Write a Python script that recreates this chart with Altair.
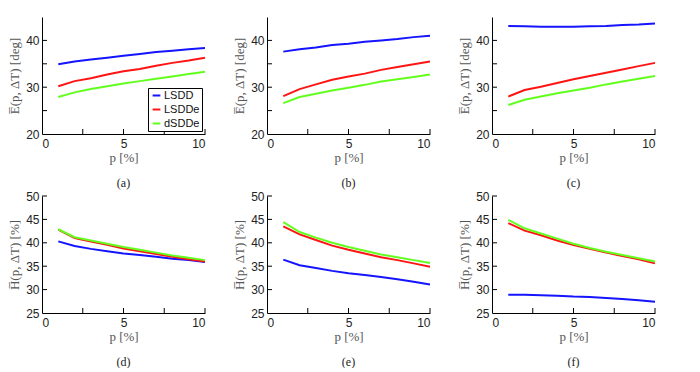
import altair as alt
import pandas as pd

p = [1, 2, 3, 4, 5, 6, 7, 8, 9, 10]
methods = ["LSDD", "LSDDe", "dSDDe"]
colors = ["#1414ff", "#ff1414", "#62ff1e"]

# top row: mean angular error E(p, dT) [deg]
a_vals = [
    [34.9, 35.5, 35.9, 36.3, 36.7, 37.1, 37.5, 37.8, 38.1, 38.4],
    [30.2, 31.3, 31.9, 32.7, 33.4, 33.9, 34.6, 35.2, 35.7, 36.3],
    [27.9, 28.9, 29.6, 30.2, 30.8, 31.3, 31.8, 32.3, 32.8, 33.3],
]
b_vals = [
    [37.6, 38.1, 38.5, 39.0, 39.3, 39.7, 40.0, 40.3, 40.7, 41.0],
    [28.1, 29.6, 30.6, 31.6, 32.3, 32.9, 33.7, 34.3, 34.9, 35.5],
    [26.6, 27.9, 28.6, 29.3, 29.9, 30.5, 31.2, 31.7, 32.2, 32.7],
]
c_vals = [
    [43.1, 43.0, 42.9, 42.9, 42.9, 43.0, 43.1, 43.3, 43.4, 43.6],
    [28.0, 29.4, 30.1, 30.9, 31.7, 32.4, 33.1, 33.8, 34.5, 35.2],
    [26.2, 27.3, 28.0, 28.7, 29.3, 29.9, 30.6, 31.2, 31.8, 32.4],
]
# bottom row: H(p, dT) [%]
d_vals = [
    [40.3, 39.3, 38.7, 38.2, 37.7, 37.4, 37.0, 36.6, 36.3, 35.9],
    [42.8, 41.0, 40.3, 39.6, 38.8, 38.2, 37.6, 37.0, 36.5, 36.0],
    [42.9, 41.2, 40.5, 39.8, 39.1, 38.5, 37.9, 37.3, 36.8, 36.3],
]
e_vals = [
    [36.4, 35.2, 34.6, 34.0, 33.5, 33.1, 32.7, 32.2, 31.7, 31.1],
    [43.5, 41.8, 40.6, 39.4, 38.5, 37.7, 36.9, 36.3, 35.6, 34.9],
    [44.4, 42.3, 41.1, 40.0, 39.1, 38.3, 37.5, 36.9, 36.3, 35.7],
]
f_vals = [
    [28.9, 28.9, 28.8, 28.7, 28.5, 28.4, 28.2, 28.0, 27.7, 27.4],
    [44.2, 42.6, 41.6, 40.5, 39.5, 38.7, 37.9, 37.2, 36.5, 35.6],
    [44.9, 43.1, 42.0, 40.9, 39.8, 38.9, 38.1, 37.4, 36.7, 36.0],
]

x_axis_values = [0, 2.5, 5, 7.5, 10]
x_inner_ticks = [2.5, 5, 7.5, 10]
top_y_domain = [20, 45]
top_y_values = [20, 25, 30, 35, 40]
top_y_inner = [25, 30, 35, 40]
bot_y_domain = [25, 50]
bot_y_values = [25, 30, 35, 40, 45, 50]
bot_y_inner = [30, 35, 40, 45, 50]

top_title = "E\u0305(p, \u0394T) [deg]"
bot_title = "H\u0305(p, \u0394T) [%]"
x_title = "p [%]"

W, H = 163, 117
SERIF = "Liberation Serif"
SANS = "Liberation Sans"


def panel(vals, ydom, yvals, yinner, ytitle, caption, show_legend, top_row):
    rows = []
    for m, v in zip(methods, vals):
        for x, y in zip(p, v):
            rows.append({"p": x, "v": y, "m": m})
    df = pd.DataFrame(rows)

    xaxis = alt.Axis(values=x_axis_values,
                     labelExpr="datum.value % 5 == 0 ? datum.label : ''",
                     title=x_title, tickSize=0, labelPadding=4, titlePadding=2)
    if top_row:
        lab = "datum.value % 10 == 0 ? datum.label : ''"
    else:
        lab = "datum.label"
    yaxis = alt.Axis(values=yvals, labelExpr=lab, title=ytitle, tickSize=0,
                     labelPadding=3, titlePadding=4)
    xs = alt.Scale(domain=[0, 10], nice=False)
    ys = alt.Scale(domain=ydom, nice=False, zero=False)

    if show_legend:
        leg = alt.Legend(title=None, orient="bottom-right", offset=3,
                         fillColor="white", strokeColor="black", padding=2,
                         symbolType="stroke", symbolStrokeWidth=2, symbolSize=60,
                         labelFont=SANS, labelFontSize=11, labelColor="#111",
                         rowPadding=2, labelOffset=2, cornerRadius=0,
                         symbolOffset=1)
    else:
        leg = None

    lines = alt.Chart(df).mark_line(strokeWidth=2).encode(
        x=alt.X("p:Q", scale=xs, axis=xaxis),
        y=alt.Y("v:Q", scale=ys, axis=yaxis),
        color=alt.Color("m:N", scale=alt.Scale(domain=methods, range=colors),
                        legend=leg, sort=methods),
    )
    xt = alt.Chart(pd.DataFrame({"t": x_inner_ticks})).mark_rule(
        color="black", strokeWidth=1).encode(
        x=alt.X("t:Q", scale=xs, axis=xaxis),
        y=alt.value(H), y2=alt.value(H - 5))
    yt = alt.Chart(pd.DataFrame({"t": yinner})).mark_rule(
        color="black", strokeWidth=1).encode(
        y=alt.Y("t:Q", scale=ys, axis=yaxis),
        x=alt.value(0), x2=alt.value(5))
    return alt.layer(lines, xt, yt).properties(
        width=W, height=H,
        title=alt.TitleParams(caption, orient="bottom", font=SERIF, fontSize=12,
                              fontWeight="normal", color="#222", offset=14))


pa = panel(a_vals, top_y_domain, top_y_values, top_y_inner, top_title, "(a)", True, True)
pb = panel(b_vals, top_y_domain, top_y_values, top_y_inner, top_title, "(b)", False, True)
pc = panel(c_vals, top_y_domain, top_y_values, top_y_inner, top_title, "(c)", False, True)
pd_ = panel(d_vals, bot_y_domain, bot_y_values, bot_y_inner, bot_title, "(d)", False, False)
pe = panel(e_vals, bot_y_domain, bot_y_values, bot_y_inner, bot_title, "(e)", False, False)
pf = panel(f_vals, bot_y_domain, bot_y_values, bot_y_inner, bot_title, "(f)", False, False)

top = alt.hconcat(pa, pb, pc, spacing=24).resolve_legend(color="independent")
bot = alt.hconcat(pd_, pe, pf, spacing=24).resolve_legend(color="independent")

chart = alt.vconcat(top, bot, spacing=1).resolve_legend(color="independent").properties(
    padding={"left": 0, "top": 9, "right": 0, "bottom": 0},
    background="white",
).configure_view(stroke=None).configure_axis(
    domainColor="black", domainWidth=1,
    labelFont=SANS, labelFontSize=12, labelColor="#222",
    titleFont=SERIF, titleFontSize=13, titleFontWeight="normal", titleColor="#555",
    grid=False,
)

chart.save("out.html", embed_options={"renderer": "svg", "actions": False})
